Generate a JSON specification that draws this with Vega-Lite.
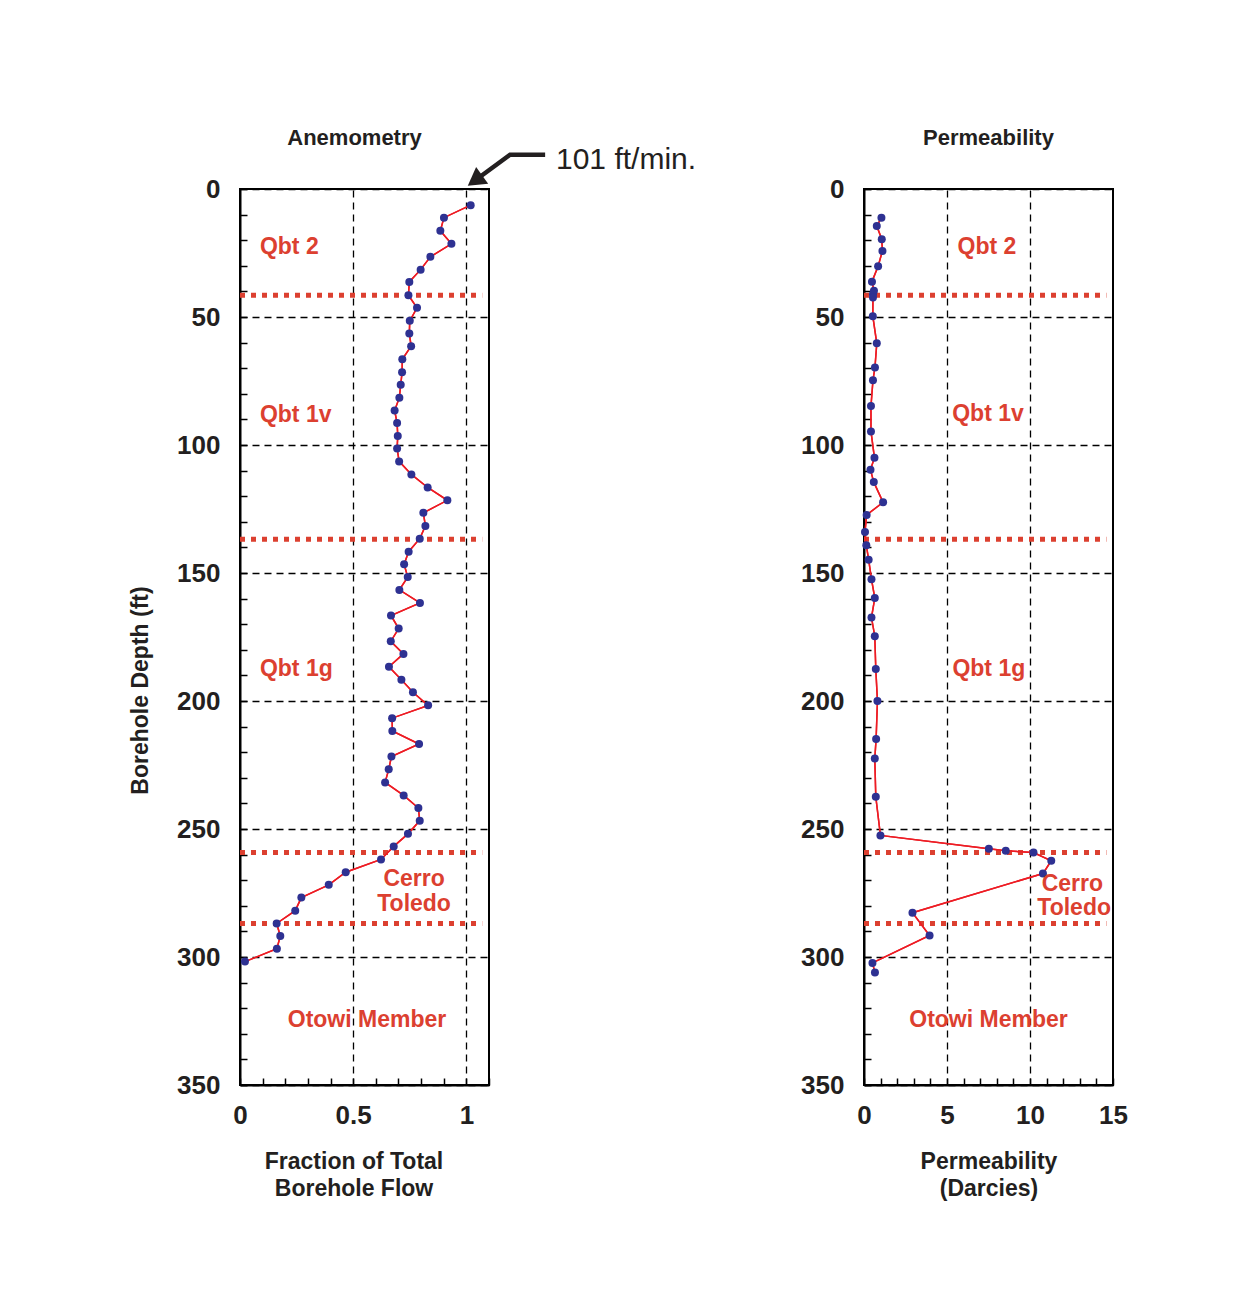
{
  "$schema": "https://vega.github.io/schema/vega-lite/v6.json",
  "padding": {"left": 128, "top": 125, "right": 5, "bottom": 5},
  "bounds": "flush",
  "spacing": 375,
  "config": {
    "font": "Liberation Sans",
    "view": {"stroke": "#000000", "strokeWidth": 2},
    "axis": {
      "domainColor": "#000000", "domainWidth": 2,
      "tickColor": "#000000", "tickWidth": 1.5, "tickSize": -7,
      "labelFont": "Liberation Sans", "labelFontWeight": "bold", "labelFontSize": 26, "labelColor": "#231f20",
      "labelFlush": false, "labelOverlap": false,
      "titleFont": "Liberation Sans", "titleFontSize": 23, "titleFontWeight": "bold", "titleColor": "#231f20",
      "titleLineHeight": 27,
      "gridColor": "#000000", "gridDash": [7, 5], "gridWidth": 1.3
    },
    "title": {"font": "Liberation Sans", "fontSize": 22, "fontWeight": "bold", "color": "#231f20"}
  },
  "datasets": {
    "flow": [
      {"depth": 6.3, "frac": 1.019}, {"depth": 11.2, "frac": 0.901}, {"depth": 16.3, "frac": 0.885},
      {"depth": 21.4, "frac": 0.934}, {"depth": 26.5, "frac": 0.841}, {"depth": 31.5, "frac": 0.798},
      {"depth": 36.3, "frac": 0.748}, {"depth": 41.5, "frac": 0.744}, {"depth": 46.4, "frac": 0.782},
      {"depth": 51.5, "frac": 0.750}, {"depth": 56.4, "frac": 0.748}, {"depth": 61.4, "frac": 0.756},
      {"depth": 66.5, "frac": 0.717}, {"depth": 71.6, "frac": 0.716}, {"depth": 76.5, "frac": 0.710},
      {"depth": 81.5, "frac": 0.704}, {"depth": 86.5, "frac": 0.683}, {"depth": 91.4, "frac": 0.694},
      {"depth": 96.5, "frac": 0.697}, {"depth": 101.4, "frac": 0.694}, {"depth": 106.4, "frac": 0.703},
      {"depth": 111.5, "frac": 0.757}, {"depth": 116.6, "frac": 0.829}, {"depth": 121.6, "frac": 0.916},
      {"depth": 126.5, "frac": 0.810}, {"depth": 131.6, "frac": 0.819}, {"depth": 136.6, "frac": 0.794},
      {"depth": 141.7, "frac": 0.745}, {"depth": 146.6, "frac": 0.725}, {"depth": 151.6, "frac": 0.741},
      {"depth": 156.6, "frac": 0.704}, {"depth": 161.7, "frac": 0.795}, {"depth": 166.6, "frac": 0.667},
      {"depth": 171.7, "frac": 0.701}, {"depth": 176.7, "frac": 0.666}, {"depth": 181.6, "frac": 0.722},
      {"depth": 186.6, "frac": 0.658}, {"depth": 191.7, "frac": 0.713}, {"depth": 196.6, "frac": 0.764},
      {"depth": 201.7, "frac": 0.831}, {"depth": 206.7, "frac": 0.672}, {"depth": 211.7, "frac": 0.673},
      {"depth": 216.8, "frac": 0.791}, {"depth": 221.7, "frac": 0.669}, {"depth": 226.7, "frac": 0.657},
      {"depth": 231.8, "frac": 0.641}, {"depth": 236.9, "frac": 0.723}, {"depth": 241.8, "frac": 0.788},
      {"depth": 246.8, "frac": 0.794}, {"depth": 251.9, "frac": 0.742}, {"depth": 256.8, "frac": 0.679},
      {"depth": 261.9, "frac": 0.623}, {"depth": 266.9, "frac": 0.467}, {"depth": 271.8, "frac": 0.392},
      {"depth": 276.8, "frac": 0.271}, {"depth": 281.9, "frac": 0.244}, {"depth": 286.9, "frac": 0.162},
      {"depth": 291.8, "frac": 0.178}, {"depth": 296.8, "frac": 0.163}, {"depth": 301.8, "frac": 0.022}
    ],
    "perm": [
      {"depth": 11.2, "perm": 1.05}, {"depth": 14.5, "perm": 0.77}, {"depth": 19.6, "perm": 1.07},
      {"depth": 24.2, "perm": 1.11}, {"depth": 30.2, "perm": 0.85}, {"depth": 36.2, "perm": 0.48},
      {"depth": 39.7, "perm": 0.60}, {"depth": 41.1, "perm": 0.54}, {"depth": 42.4, "perm": 0.54},
      {"depth": 49.7, "perm": 0.53}, {"depth": 60.3, "perm": 0.77}, {"depth": 69.7, "perm": 0.66},
      {"depth": 74.7, "perm": 0.54}, {"depth": 84.8, "perm": 0.42}, {"depth": 94.7, "perm": 0.42},
      {"depth": 105.0, "perm": 0.63}, {"depth": 109.7, "perm": 0.39}, {"depth": 114.5, "perm": 0.59},
      {"depth": 122.4, "perm": 1.15}, {"depth": 127.3, "perm": 0.16}, {"depth": 134.0, "perm": 0.06},
      {"depth": 139.2, "perm": 0.14}, {"depth": 144.8, "perm": 0.28}, {"depth": 152.4, "perm": 0.45},
      {"depth": 159.8, "perm": 0.65}, {"depth": 167.4, "perm": 0.45}, {"depth": 174.7, "perm": 0.65},
      {"depth": 187.5, "perm": 0.71}, {"depth": 200.0, "perm": 0.81}, {"depth": 214.8, "perm": 0.73},
      {"depth": 222.5, "perm": 0.65}, {"depth": 237.4, "perm": 0.71}, {"depth": 252.5, "perm": 0.99},
      {"depth": 257.7, "perm": 7.52}, {"depth": 258.5, "perm": 8.54}, {"depth": 259.2, "perm": 10.21},
      {"depth": 262.4, "perm": 11.28}, {"depth": 267.4, "perm": 10.78}, {"depth": 282.7, "perm": 2.92},
      {"depth": 291.6, "perm": 3.95}, {"depth": 302.3, "perm": 0.51}, {"depth": 306.1, "perm": 0.66}
    ],
    "contacts": [{"depth": 41.5}, {"depth": 136.8}, {"depth": 259.2}, {"depth": 286.9}],
    "unitsLeftQbt": [
      {"x": 0.088, "depth": 22.7, "label": "Qbt 2"},
      {"x": 0.088, "depth": 88.3, "label": "Qbt 1v"},
      {"x": 0.088, "depth": 187.5, "label": "Qbt 1g"}
    ],
    "unitsLeftOther": [
      {"x": 0.769, "depth": 269.4, "label": "Cerro"},
      {"x": 0.769, "depth": 279.2, "label": "Toledo"},
      {"x": 0.561, "depth": 324.6, "label": "Otowi Member"}
    ],
    "unitsRight": [
      {"x": 7.41, "depth": 22.7, "label": "Qbt 2"},
      {"x": 7.47, "depth": 88.0, "label": "Qbt 1v"},
      {"x": 7.52, "depth": 187.5, "label": "Qbt 1g"},
      {"x": 12.55, "depth": 271.3, "label": "Cerro"},
      {"x": 12.66, "depth": 280.8, "label": "Toledo"},
      {"x": 7.5, "depth": 324.6, "label": "Otowi Member"}
    ],
    "arrowPath": [
      {"k": 0, "x": 1.348, "depth": -13.4},
      {"k": 1, "x": 1.193, "depth": -13.4},
      {"k": 2, "x": 1.038, "depth": -3.3}
    ],
    "arrowHead": [{"x": 1.038, "depth": -3.3}],
    "note": [{"x": 1.396, "depth": -11.5, "label": "101 ft/min."}]
  },
  "hconcat": [
    {
      "width": 249,
      "height": 896,
      "title": {"text": "Anemometry", "dx": -10, "offset": -5},
      "layer": [
        {
          "data": {"name": "flow"},
          "mark": {"type": "line", "color": "#ed1c24", "strokeWidth": 1.5},
          "encoding": {
            "x": {
              "field": "frac", "type": "quantitative",
              "scale": {"domain": [0, 1.1], "nice": false, "zero": false},
              "axis": {
                "tickCount": 11,
                "labelExpr": "datum.value === 0 ? '0' : datum.value === 0.5 ? '0.5' : datum.value === 1 ? '1' : ''",
                "grid": true,
                "gridOpacity": {"condition": {"test": "datum.value === 0.5 || datum.value === 1", "value": 1}, "value": 0},
                "labelPadding": 24,
                "title": ["Fraction of Total", "Borehole Flow"],
                "titleX": 113.5,
                "titlePadding": 22
              }
            },
            "y": {
              "field": "depth", "type": "quantitative",
              "scale": {"domain": [0, 350], "reverse": true, "nice": false, "zero": false},
              "axis": {
                "tickCount": 35,
                "labelExpr": "datum.value % 50 === 0 ? datum.label : ''",
                "grid": true,
                "gridOpacity": {"condition": {"test": "datum.value % 50 === 0", "value": 1}, "value": 0},
                "labelPadding": 27,
                "title": "Borehole Depth (ft)",
                "titleAngle": -90,
                "titleX": -100,
                "titleY": 501,
                "titleAlign": "center",
                "titleBaseline": "middle"
              }
            },
            "order": {"field": "depth", "type": "quantitative"}
          }
        },
        {
          "data": {"name": "contacts"},
          "mark": {"type": "rule", "color": "#dc4030", "strokeWidth": 5, "strokeDash": [5, 6]},
          "encoding": {
            "y": {"field": "depth", "type": "quantitative"},
            "x": {"datum": 0, "type": "quantitative"},
            "x2": {"datum": 1.07}
          }
        },
        {
          "data": {"name": "flow"},
          "mark": {"type": "line", "color": "#ed1c24", "strokeWidth": 1.5},
          "encoding": {
            "x": {"field": "frac", "type": "quantitative"},
            "y": {"field": "depth", "type": "quantitative"},
            "order": {"field": "depth", "type": "quantitative"}
          }
        },
        {
          "data": {"name": "flow"},
          "mark": {"type": "circle", "color": "#2e3192", "size": 64, "opacity": 1},
          "encoding": {
            "x": {"field": "frac", "type": "quantitative"},
            "y": {"field": "depth", "type": "quantitative"}
          }
        },
        {
          "data": {"name": "unitsLeftQbt"},
          "mark": {"type": "text", "color": "#dc4030", "fontSize": 23, "fontWeight": "bold", "align": "left", "baseline": "middle"},
          "encoding": {
            "x": {"field": "x", "type": "quantitative"},
            "y": {"field": "depth", "type": "quantitative"},
            "text": {"field": "label"}
          }
        },
        {
          "data": {"name": "unitsLeftOther"},
          "mark": {"type": "text", "color": "#dc4030", "fontSize": 23, "fontWeight": "bold", "align": "center", "baseline": "middle"},
          "encoding": {
            "x": {"field": "x", "type": "quantitative"},
            "y": {"field": "depth", "type": "quantitative"},
            "text": {"field": "label"}
          }
        },
        {
          "data": {"name": "arrowPath"},
          "mark": {"type": "line", "color": "#231f20", "strokeWidth": 4.5, "clip": false},
          "encoding": {
            "x": {"field": "x", "type": "quantitative"},
            "y": {"field": "depth", "type": "quantitative"},
            "order": {"field": "k", "type": "quantitative"}
          }
        },
        {
          "data": {"name": "arrowHead"},
          "mark": {"type": "point", "shape": "triangle-up", "filled": true, "size": 420, "angle": 234, "color": "#231f20", "opacity": 1, "clip": false},
          "encoding": {
            "x": {"field": "x", "type": "quantitative"},
            "y": {"field": "depth", "type": "quantitative"}
          }
        },
        {
          "data": {"name": "note"},
          "mark": {"type": "text", "color": "#231f20", "fontSize": 30, "fontWeight": "normal", "align": "left", "baseline": "middle", "clip": false},
          "encoding": {
            "x": {"field": "x", "type": "quantitative"},
            "y": {"field": "depth", "type": "quantitative"},
            "text": {"field": "label"}
          }
        }
      ]
    },
    {
      "width": 249,
      "height": 896,
      "title": {"text": "Permeability", "offset": 26},
      "layer": [
        {
          "data": {"name": "perm"},
          "mark": {"type": "line", "color": "#ed1c24", "strokeWidth": 1.5},
          "encoding": {
            "x": {
              "field": "perm", "type": "quantitative",
              "scale": {"domain": [0, 15], "nice": false, "zero": false},
              "axis": {
                "tickCount": 15,
                "labelExpr": "datum.value % 5 === 0 ? datum.label : ''",
                "grid": true,
                "gridOpacity": {"condition": {"test": "datum.value === 5 || datum.value === 10", "value": 1}, "value": 0},
                "labelPadding": 24,
                "title": ["Permeability", "(Darcies)"],
                "titlePadding": 22
              }
            },
            "y": {
              "field": "depth", "type": "quantitative",
              "scale": {"domain": [0, 350], "reverse": true, "nice": false, "zero": false},
              "axis": {
                "tickCount": 35,
                "labelExpr": "datum.value % 50 === 0 ? datum.label : ''",
                "grid": true,
                "gridOpacity": {"condition": {"test": "datum.value % 50 === 0", "value": 1}, "value": 0},
                "labelPadding": 27,
                "title": null
              }
            },
            "order": {"field": "depth", "type": "quantitative"}
          }
        },
        {
          "data": {"name": "contacts"},
          "mark": {"type": "rule", "color": "#dc4030", "strokeWidth": 5, "strokeDash": [5, 6]},
          "encoding": {
            "y": {"field": "depth", "type": "quantitative"},
            "x": {"datum": 0, "type": "quantitative"},
            "x2": {"datum": 14.6}
          }
        },
        {
          "data": {"name": "perm"},
          "mark": {"type": "line", "color": "#ed1c24", "strokeWidth": 1.5},
          "encoding": {
            "x": {"field": "perm", "type": "quantitative"},
            "y": {"field": "depth", "type": "quantitative"},
            "order": {"field": "depth", "type": "quantitative"}
          }
        },
        {
          "data": {"name": "perm"},
          "mark": {"type": "circle", "color": "#2e3192", "size": 64, "opacity": 1},
          "encoding": {
            "x": {"field": "perm", "type": "quantitative"},
            "y": {"field": "depth", "type": "quantitative"}
          }
        },
        {
          "data": {"name": "unitsRight"},
          "mark": {"type": "text", "color": "#dc4030", "fontSize": 23, "fontWeight": "bold", "align": "center", "baseline": "middle"},
          "encoding": {
            "x": {"field": "x", "type": "quantitative"},
            "y": {"field": "depth", "type": "quantitative"},
            "text": {"field": "label"}
          }
        }
      ]
    }
  ]
}
